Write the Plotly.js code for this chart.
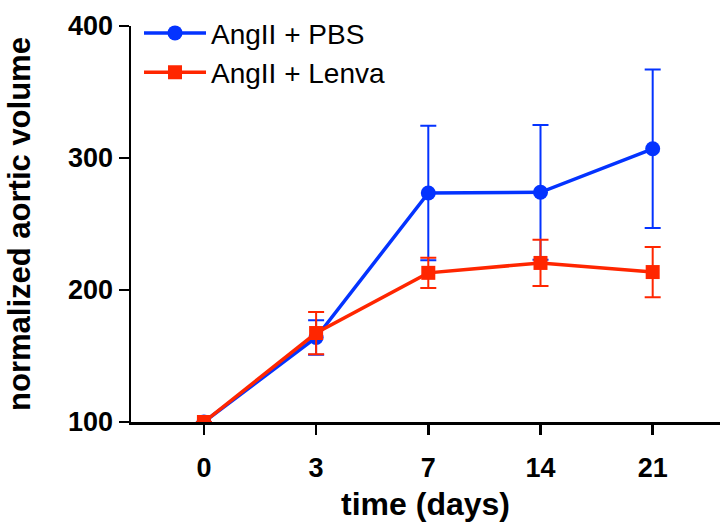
<!DOCTYPE html>
<html><head><meta charset="utf-8">
<script src="https://cdn.plot.ly/plotly-3.0.1.min.js"></script>
<style>html,body{margin:0;padding:0;background:#fff}</style>
</head><body>
<div id="chart" style="width:721px;height:525px"></div>
<script>
const days = ["0", "3", "7", "14", "21"];
const pbsMean = [100, 164, 273.5, 274, 307];
const pbsErr = [0, 13, 51, 51, 60];
const lenvaMean = [100, 167.4, 213, 220.5, 213.6];
const lenvaErr = [0, 16, 11.5, 17.5, 19];
const yTicks = [100, 200, 300, 400];

const blue = "#0433FF";
const red = "#FF2600";

const traces = [
  {x: days, y: pbsMean, name: "AngII + PBS", type: "scatter", mode: "lines+markers",
   line: {color: blue, width: 3.5},
   marker: {symbol: "circle", size: 15, color: blue},
   error_y: {type: "data", array: pbsErr, visible: true, color: blue, thickness: 2, width: 8}},
  {x: days, y: lenvaMean, name: "AngII + Lenva", type: "scatter", mode: "lines+markers",
   line: {color: red, width: 3.5},
   marker: {symbol: "square", size: 14, color: red},
   error_y: {type: "data", array: lenvaErr, visible: true, color: red, thickness: 2, width: 8}}
];

const fam = "Liberation Sans, Arial, sans-serif";
const tickFont = {family: fam, size: 27, color: "#000", weight: "bold"};
const layout = {
  width: 721, height: 525,
  margin: {l: 131, r: 1, t: 26, b: 103},
  paper_bgcolor: "#fff", plot_bgcolor: "#fff",
  showlegend: true,
  legend: {x: 0.0136, y: 1.045, xanchor: "left", yanchor: "top", bgcolor: "rgba(0,0,0,0)",
    font: {family: fam, size: 28, color: "#000"}, itemwidth: 62},
  xaxis: {type: "category", range: [-0.65, 4.6], showgrid: false, zeroline: false,
    showline: true, linecolor: "#000", linewidth: 2.5,
    ticks: "outside", ticklen: 10, tickwidth: 2.5, tickcolor: "#000",
    tickfont: tickFont, ticklabelstandoff: 10,
    title: {text: "time (days)", font: {family: fam, size: 32, color: "#000", weight: "bold"}, standoff: 11}},
  yaxis: {range: [100, 400], tickvals: yTicks, showgrid: false, zeroline: false,
    showline: true, linecolor: "#000", linewidth: 2.5,
    ticks: "outside", ticklen: 10, tickwidth: 2.5, tickcolor: "#000",
    tickfont: tickFont,
    title: {text: "normalized aortic volume", font: {family: fam, size: 31, color: "#000", weight: "bold"}, standoff: 28}}
};
Plotly.newPlot("chart", traces, layout, {staticPlot: true, displayModeBar: false});
</script>
</body></html>
